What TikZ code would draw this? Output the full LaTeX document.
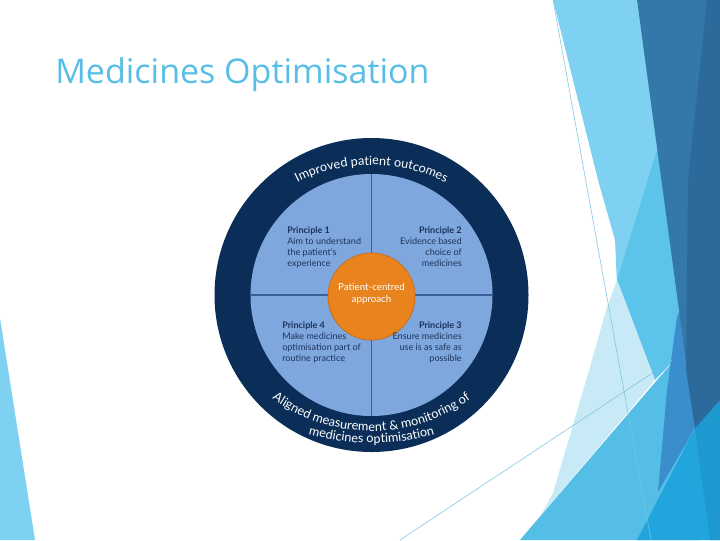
\documentclass[tikz,border=0pt]{standalone}
\usepackage{fontspec}
\setmainfont{Lato}
\newfontfamily\titlefont{Open Sans}
\usetikzlibrary{decorations.text,positioning}

\definecolor{titleblue}{RGB}{88,190,230}
\definecolor{ringnavy}{RGB}{11,46,88}
\definecolor{quadblue}{RGB}{126,167,222}
\definecolor{divblue}{RGB}{55,95,155}
\definecolor{quadnavy}{RGB}{28,52,92}
\definecolor{coreorange}{RGB}{232,131,30}
\definecolor{coreedge}{RGB}{205,110,25}
\definecolor{facetsky}{RGB}{126,209,240}
\definecolor{facetmid}{RGB}{92,195,234}
\definecolor{facetpale}{RGB}{200,234,247}
\definecolor{facettri}{RGB}{84,190,231}
\definecolor{facetsliver}{RGB}{58,142,204}
\definecolor{facetbright}{RGB}{34,165,220}
\definecolor{facetbrightdk}{RGB}{29,153,207}
\definecolor{facetdark}{RGB}{52,119,169}
\definecolor{facetdeep}{RGB}{44,106,156}
\definecolor{facetline}{RGB}{120,195,225}

\newcommand{\quadfont}{\fontsize{6.8}{8.25}\selectfont}
\newcommand{\ringfont}{\fontsize{9.5}{11}\selectfont}

\begin{document}
\begin{tikzpicture}[x=0.75pt,y=0.75pt,yscale=-1,xscale=1,
  facet/.style={draw opacity=0,fill=#1,fill opacity=1},
  hairline/.style={draw=facetline,line width=0.4pt},
  quadtext/.style={inner sep=0pt,text=quadnavy,font=\quadfont},
  ringtext/.style={decorate,decoration={text along path,text={#1},text align=center,text color=white}}]
\useasboundingbox (0,0) rectangle (720,540);

%Shape: Polygon [facet, light strip]
\fill[facet=facetsky] (553,0) -- (637,0) -- (659,152) -- (617,285) -- (615,240) -- (598,180) -- cycle;
%Shape: Polygon [facet, mid strip]
\fill[facet=facetmid] (657,150) -- (617,280) -- (655,380) -- (676,358) -- (690,380) -- (700,150) -- cycle;
%Shape: Polygon [facet, pale]
\fill[facet=facetpale] (617,280) -- (655,380) -- (520,540) -- (540,517) -- (553,493) -- (590,367) -- (607,307) -- cycle;
%Shape: Polygon [facet, big triangle]
\fill[facet=facettri] (520,540) -- (676,358) -- (690,400) -- (700,540) -- cycle;
%Shape: Polygon [facet, sliver]
\fill[facet=facetsliver] (684,300) -- (677,317) -- (667,390) -- (658,492) -- (695,428) -- (700,300) -- cycle;
%Shape: Polygon [facet, bright]
\fill[facet=facetbright] (637,540) -- (695,428) -- (720,400) -- (720,540) -- cycle;
\fill[facet=facetbrightdk] (695,428) -- (720,400) -- (720,540) -- (710,540) -- cycle;
%Shape: Polygon [facet, dark]
\fill[facet=facetdark] (637,0) -- (720,0) -- (720,400) -- (695,428) -- cycle;
\fill[facet=facetdeep] (707,0) -- (720,0) -- (720,400) -- (695,428) -- (686,370) -- (688,180) -- cycle;
%Shape: Triangle [facet, left]
\fill[facet=facetsky] (0,318) -- (35,540) -- (0,540) -- cycle;
%Straight Lines
\draw[hairline] (553,0) -- (651,540);
\draw[hairline] (400,540) -- (672,360);

% Text Node
\node[anchor=base west,inner sep=0pt,text=titleblue,font=\titlefont\fontsize{25.5}{30}\selectfont] (title) at (55,83) {Medicines Optimisation};

%Shape: Circle [ring]
\coordinate (hub) at (371.5,295);
\fill[ringnavy] (hub) circle (157);
\node[circle,inner sep=0pt,minimum size=181.5pt,fill=quadblue] (inner) at (hub) {};
\draw[divblue,line width=0.9pt] (inner.north) -- (inner.south);
\draw[divblue,line width=0.9pt] (inner.west) -- (inner.east);

%Shape: Circle [centre]
\node[circle,inner sep=0pt,minimum size=65.25pt,fill=coreorange,draw=coreedge,line width=0.6pt] (core) at (371.5,296.5) {};
\node[inner sep=0pt,text=white,align=center,font=\fontsize{7.3}{9}\selectfont] (corelabel) at ([yshift=-2.3pt]core.center) {Patient-centred\\approach};

% Text Node
\node[quadtext,anchor=north west,align=left] (p1) at (287,226.5) {\textbf{Principle 1}\\Aim to understand\\the patient's\\experience};
% Text Node
\node[quadtext,anchor=north east,align=right] (p2) at (462,226.5) {\textbf{Principle 2}\\Evidence based\\choice of\\medicines};
% Text Node
\node[quadtext,anchor=north west,align=left] (p4) at (282,321.5) {\textbf{Principle 4}\\Make medicines\\optimisation part of\\routine practice};
% Text Node
\node[quadtext,anchor=north east,align=right] (p3) at (462,321.5) {\textbf{Principle 3}\\Ensure medicines\\use is as safe as\\possible};

%Curve Lines [ring text]
\path[ringtext={|\ringfont|Improved patient outcomes}] (371.5,330) ++(-140:165) arc (-140:-40:165);
\path[ringtext={|\ringfont|Aligned measurement {\&} monitoring of}] (371.5,262) ++(140:169) arc (140:40:169);
\path[ringtext={|\ringfont|medicines optimisation}] (371.5,214) ++(120:229) arc (120:60:229);

\end{tikzpicture}
\end{document}
